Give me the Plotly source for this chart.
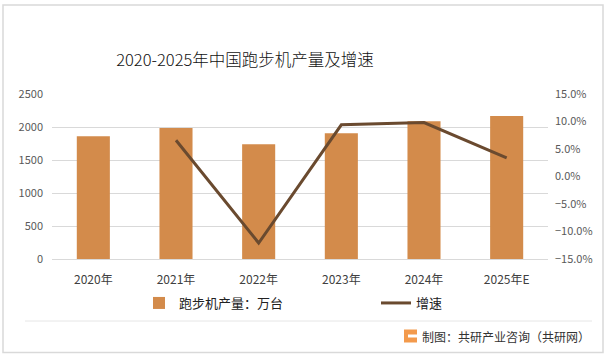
import plotly.graph_objects as go

years = ["2020年", "2021年", "2022年", "2023年", "2024年", "2025年E"]
output = [1859, 1985, 1738, 1905, 2086, 2166]
growth = [None, 0.066, -0.121, 0.094, 0.098, 0.034]

W, H = 609, 358
L, R, T, B = 52, 548, 94, 259

def px(x):
    return (x - L) / (R - L)

def py(y):
    return (B - y) / (B - T)

BAR = "#D38B4B"
LINE = "#6A4A2F"
FONT = "Noto Sans CJK SC"

fig = go.Figure()
fig.add_trace(go.Bar(x=years, y=output, name="跑步机产量：万台",
                     marker=dict(color=BAR, line=dict(width=0)), width=0.4))
fig.add_trace(go.Scatter(x=years, y=growth, name="增速", yaxis="y2",
                         mode="lines", line=dict(color=LINE, width=3)))

fig.update_layout(
    width=W, height=H,
    margin=dict(l=L, r=W - R, t=T, b=H - B, autoexpand=False),
    paper_bgcolor="white", plot_bgcolor="white",
    font=dict(family=FONT, color="#595959", size=11),
    title=dict(text="2020-2025年中国跑步机产量及增速", x=245 / W, xanchor="center",
               y=1 - 60 / H, yanchor="middle",
               font=dict(size=16.5, color="#111111", family=FONT, weight=300)),
    bargap=0.6,
    xaxis=dict(showline=True, linecolor="#D9D9D9", linewidth=1, ticks="",
               tickfont=dict(size=12, color="#404040"), ticklabelstandoff=10),
    yaxis=dict(range=[0, 2500], dtick=500, showgrid=True, gridcolor="#D9D9D9",
               gridwidth=1, zeroline=False, ticks="", ticklabelstandoff=8,
               tickfont=dict(size=11, color="#595959")),
    yaxis2=dict(range=[-0.15, 0.15], dtick=0.05, tickformat=".1%", overlaying="y",
                side="right", showgrid=False, zeroline=False, ticks="",
                ticklabelstandoff=6, tickfont=dict(size=11, color="#595959")),
    showlegend=True,
    legend=dict(orientation="h", x=px(139), xanchor="left", y=py(303), yanchor="middle",
                entrywidth=192, entrywidthmode="pixels", tracegroupgap=0,
                font=dict(size=13, color="#222222"), itemwidth=30,
                bgcolor="rgba(0,0,0,0)"),
)

shapes = []
# outer border
shapes.append(dict(type="rect", xref="paper", yref="paper", x0=px(3), x1=px(603),
                   y0=py(352.5), y1=py(5), line=dict(color="#D9D9D9", width=1.5),
                   layer="below"))
# separator
shapes.append(dict(type="line", xref="paper", yref="paper", x0=px(25), x1=px(592),
                   y0=py(321), y1=py(321), line=dict(color="#E6E6E6", width=1)))
# logo
shapes.append(dict(type="rect", xref="paper", yref="paper", x0=px(404), x1=px(417),
                   y0=py(342.5), y1=py(329.5), fillcolor="#F39A4C", line=dict(width=0)))
shapes.append(dict(type="rect", xref="paper", yref="paper", x0=px(408), x1=px(417),
                   y0=py(337.5), y1=py(334.5), fillcolor="white", line=dict(width=0)))
fig.update_layout(shapes=shapes)

fig.add_annotation(text="制图：共研产业咨询（共研网）", xref="paper", yref="paper",
                   x=px(592), y=py(336), xanchor="right", yanchor="middle",
                   showarrow=False, font=dict(size=12, color="#333333", family=FONT))

fig.write_html("out.html", config={"displayModeBar": False},
               post_script="document.body.style.margin='0';document.body.style.overflow='hidden';")
